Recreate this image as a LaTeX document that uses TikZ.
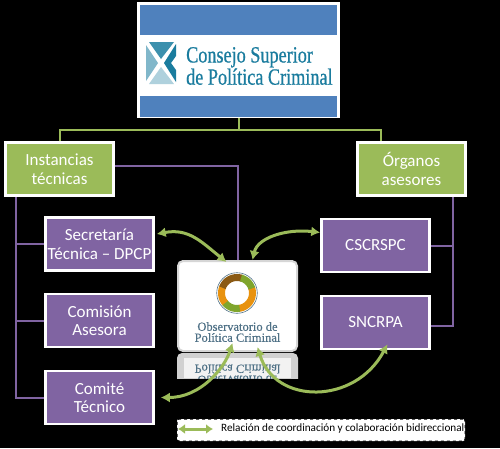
\documentclass[tikz,border=0pt]{standalone}
\usepackage{xcolor}
\usepackage{fontspec}
\usepackage{tikz}
\usetikzlibrary{arrows.meta, calc}
\setmainfont{Carlito}
\newfontfamily\logofont[FakeStretch=0.78,FakeBold=0.6]{Liberation Serif}
\newfontfamily\obsfont[FakeBold=0.4]{Liberation Serif}
\definecolor{oliveline}{HTML}{9BBB59}
\definecolor{violetbox}{HTML}{8064A2}
\definecolor{bandblue}{HTML}{4F81BD}
\definecolor{logoteal}{HTML}{1A7C9E}
\definecolor{obstext}{HTML}{4F7186}
\definecolor{ringorange}{HTML}{E8920F}
\definecolor{ringbrown}{HTML}{8A5A14}
\definecolor{ringgreen}{HTML}{7FA52C}
\tikzset{
    greenbox/.style={draw=white, fill=oliveline, line width=2.5pt, text=white, align=center,
        minimum width=108pt, minimum height=53pt, inner sep=0pt,
        font=\fontsize{17}{18.5}\selectfont},
    purplebox/.style={greenbox, fill=violetbox},
    greenline/.style={draw=oliveline, line width=2pt},
    purpleline/.style={draw=violetbox, line width=2pt},
    biarrow/.style={draw=oliveline, line width=3pt, {Latex[length=9pt,width=10pt]}-{Latex[length=9pt,width=10pt]}},
    obslabel/.style={text=obstext, align=center, inner sep=0pt, font=\obsfont\fontsize{12.5}{11}\selectfont},
}

\begin{document}
\begin{tikzpicture}[x=1pt, y=-1pt]
    \useasboundingbox (0,0) rectangle (500,448);
    \fill[black] (0,0) rectangle (500,448);

    \node[fill=white, minimum width=203pt, minimum height=116pt, inner sep=0pt] (consejo) at (238.5,60) {};
    \fill[bandblue] (140,5) rectangle (337,35);
    \fill[bandblue] (140,96) rectangle (337,117);
    \fill[color=logoteal!85] (149,42) -- (174,42) -- (161,59) -- cycle;
    \fill[color=logoteal!55] (146,45) -- (158,63) -- (146,81) -- cycle;
    \fill[color=logoteal!35] (161,67) -- (174,84) -- (149,84) -- cycle;
    \fill[color=logoteal] (176,44) -- (176,56) -- (171,63) -- (176,70) -- (176,82) -- (164,63) -- cycle;
    \node[anchor=west, inner sep=0pt, text=logoteal, align=left, font=\logofont\fontsize{23.3}{20.5}\selectfont] (logotext) at (186,66)
        {Consejo Superior\\de Política Criminal};

    \node[greenbox] (instancias) at (59.5,169) {Instancias\\técnicas};
    \node[greenbox] (organos) at (411.5,169) {Órganos\\asesores};
    \node[purplebox] (secretaria) at (99.5,244) {Secretaría\\Técnica -- DPCP};
    \node[purplebox] (comision) at (99.5,320.5) {Comisión\\Asesora};
    \node[purplebox] (comite) at (99.5,397.5) {Comité\\Técnico};
    \node[purplebox] (cscrspc) at (375.5,245.5) {CSCRSPC};
    \node[purplebox] (sncrpa) at (375.5,322.5) {SNCRPA};

    \node[fill=white, draw=black!16, line width=2pt, rounded corners=5pt, minimum width=119pt, minimum height=90pt, inner sep=0pt] (observatorio) at (237.5,306) {};
    \draw[color=obstext, line width=0.6pt] (237,293) circle (20.3);
    \foreach \a/\b/\c in {-20/83/ringorange, 80/143/ringgreen, 140/203/ringorange, 200/288/ringbrown, 285/343/ringgreen}
        \draw[color=\c, line width=7pt] plot[domain=\a:\b, samples=16] ({237+15.5*cos(\x)},{293+15.5*sin(\x)});
    \node[obslabel] (obstitle) at (237.5,332) {Observatorio de\\Política Criminal};

    \begin{scope}
        \clip (177,353) rectangle (298,378);
        \fill[black!18, rounded corners=5pt] (177,353) rectangle (298,400);
        \fill[black!5] (184,358) rectangle (291,378);
        \node[obslabel, yscale=-1, transform shape] (reflejoa) at (237.5,369) {Política Criminal};
        \node[obslabel, yscale=-1, transform shape] (reflejob) at (237.5,380) {Observatorio de};
    \end{scope}

    \coordinate (busmid) at (238.5,130);
    \coordinate (organostop) at (381,141);
    \coordinate (trunkleft) at (16,197);
    \coordinate (trunkright) at (453,197);
    \draw[greenline] (consejo.south) -- (busmid);
    \draw[greenline] (instancias.north) |- (busmid) -| (organostop);

    \draw[purpleline] ([yshift=3pt]instancias.east) -| (observatorio.north);
    \draw[purpleline] (trunkleft) |- (comite.west);
    \draw[purpleline] (trunkleft |- secretaria.west) -- (secretaria.west);
    \draw[purpleline] (trunkleft |- comision.west) -- (comision.west);
    \draw[purpleline] (trunkright) |- ([yshift=-3.5pt]sncrpa.east);
    \draw[purpleline] (trunkright |- cscrspc.east) -- (cscrspc.east);

    \draw[biarrow] ([xshift=2pt,yshift=10pt]secretaria.east) .. controls +(32,-6) and +(-25,-20) .. ([xshift=-11pt,yshift=-2pt]observatorio.north);
    \draw[biarrow] ([yshift=13pt]cscrspc.west) .. controls +(-35,-4) and +(5,-22) .. ([xshift=15pt]observatorio.north);
    \draw[biarrow] ([xshift=6pt]comite.east) .. controls +(40,0) and +(-8,25) .. ([xshift=-5pt,yshift=9pt]observatorio.south);
    \draw[biarrow] ([xshift=20pt,yshift=5pt]observatorio.south) .. controls (275,405) and (355,405) .. ([xshift=12pt,yshift=6pt]sncrpa.south);

    \node[fill=white, draw=black, dashed, line width=1pt, rounded corners=2pt, minimum width=288pt, minimum height=22pt, inner sep=0pt] (leyenda) at (321,430) {};
    \coordinate (leyendaa) at (178,429);
    \coordinate (leyendab) at (213,429);
    \draw[biarrow, {Latex[length=7pt,width=10pt]}-{Latex[length=7pt,width=10pt]}] (leyendaa) -- (leyendab);
    \node[anchor=west, inner sep=0pt, text=black, font=\fontsize{11.2}{12}\selectfont] (leyendatexto) at (221,428.5) {Relación de coordinación y colaboración bidireccional};
\end{tikzpicture}
\end{document}
